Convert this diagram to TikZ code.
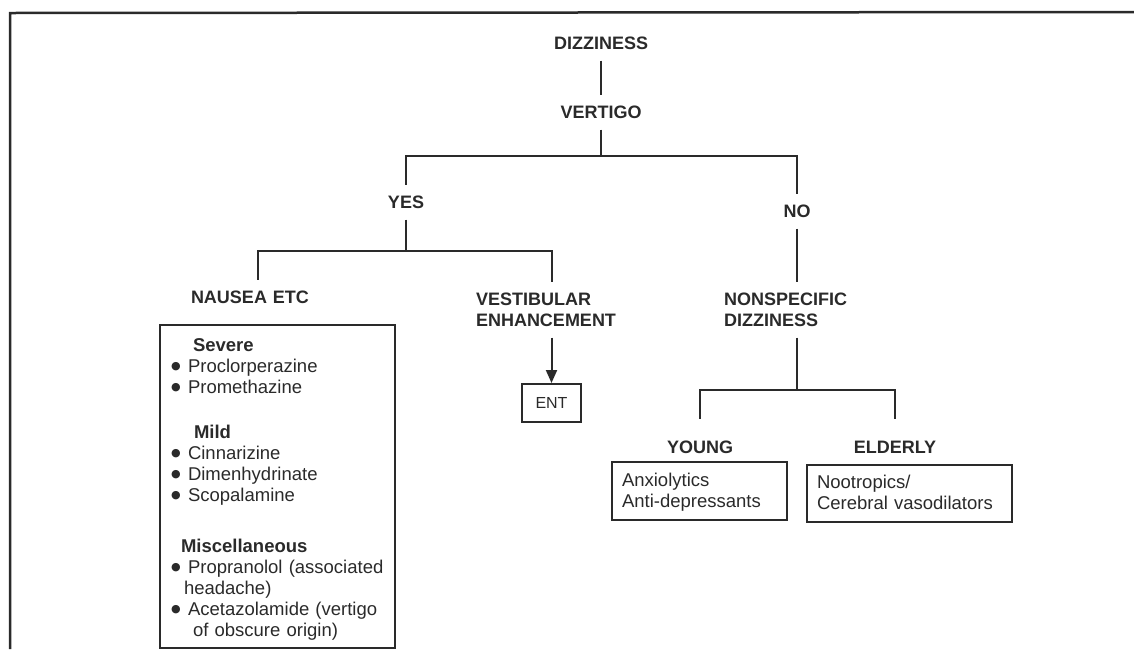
\documentclass[tikz,border=0pt]{standalone}
\usepackage{fontspec}
\setmainfont{Liberation Sans}
\newfontfamily\symfont{DejaVu Sans}
\usepackage{tikz}
\usetikzlibrary{arrows.meta}
\usetikzlibrary{positioning}

\definecolor{ink}{HTML}{2A2A2A}
\newcommand{\blob}{\makebox[17pt][l]{\raisebox{2.5pt}{\symfont\fontsize{11}{11}\selectfont●}}}

\begin{document}
\begin{tikzpicture}[x=1pt,y=-1pt,line width=2pt,color=ink,
  head/.style={font=\fontsize{18}{21}\selectfont\bfseries,text height=13pt,text depth=0pt,inner xsep=0pt,inner ysep=10pt},
  twoline/.style={head,align=left,text depth=21pt,anchor=north},
  listbox/.style={draw,font=\fontsize{18.5}{21}\selectfont,align=left,inner xsep=10pt},
  tip/.style={-{Triangle[length=13pt,width=11pt]}}]
  \useasboundingbox (0,0) rectangle (1134,649);
  %frame
  \draw[line width=2.5pt] (1134,12) -- (10,13) -- (10,649);
  %top
  \node[head] (dizz) at (601,43) {DIZZINESS};
  \node[head] (vert) at (601,112) {VERTIGO};
  \node[head] (yes) at (406,202) {YES};
  \node[head] (no) at (797,211) {NO};
  \coordinate (fork) at (601,156);
  \draw (dizz) -- (vert);
  \draw (vert) -- (fork);
  \draw (yes) |- (fork) -| (no);
  %left
  \node[head,text width=134pt,align=left] (nausea) at (258,297) {NAUSEA ETC};
  \node[twoline,text width=152pt] (vest) at (552,281.5) {VESTIBULAR\\ENHANCEMENT};
  \coordinate (fork2) at (406,251);
  \draw (yes) -- (fork2);
  \draw (nausea) |- (fork2) -| (vest);
  \node[listbox,anchor=north west,inner xsep=11pt,inner ysep=13pt,text width=213pt,text height=13pt,text depth=284pt] (drugs) at (159,324) {%
    \hspace*{22pt}\textbf{Severe}\\
    \blob Proclorperazine\\
    \blob Promethazine\\[24pt]
    \hspace*{23pt}\textbf{Mild}\\
    \blob Cinnarizine\\
    \blob Dimenhydrinate\\
    \blob Scopalamine\\[30pt]
    \hspace*{10pt}\textbf{Miscellaneous}\\
    \blob Propranolol (associated\\
    \hspace*{13pt}headache)\\
    \blob Acetazolamide (vertigo\\
    \hspace*{22pt}of obscure origin)};
  \node[draw,font=\fontsize{16}{16}\selectfont,minimum width=59pt,minimum height=38pt,inner sep=0pt] (ent) at (551.5,403) {ENT};
  \draw[tip] (vest.south -| ent) -- (ent);
  %right
  \node[twoline,text width=146pt] (nonspec) at (797,281.5) {NONSPECIFIC\\DIZZINESS};
  \draw (no) -- (nonspec);
  \coordinate (fork3) at (797,390);
  \draw (nonspec) -- (fork3);
  \node[head,inner ysep=21pt] (young) at (700,447) {YOUNG};
  \node[head,inner ysep=21pt] (elderly) at (895,447) {ELDERLY};
  \draw (young) |- (fork3) -| (elderly);
  \node[listbox,minimum width=175pt,minimum height=58pt,text height=12pt,text depth=22pt,text width=155pt] (anxio) at (699.5,491) {Anxiolytics\\Anti-depressants};
  \node[listbox,minimum width=205pt,minimum height=57pt,text height=12pt,text depth=22pt,text width=185pt] (nootro) at (909.5,493.5) {Nootropics/\\Cerebral vasodilators};
\end{tikzpicture}
\end{document}
